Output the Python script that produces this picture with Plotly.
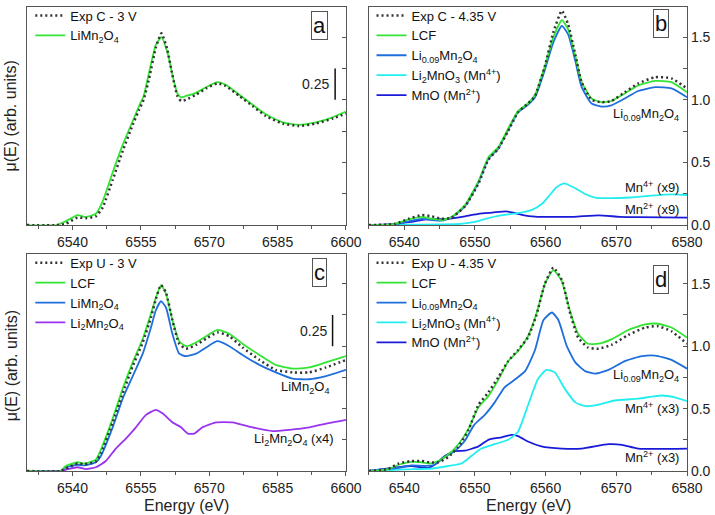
import plotly.graph_objects as go

# ---------- panel a : Exp C - 3 V ----------
e_a = [6530, 6536.5, 6538.5, 6541.1, 6542.9, 6545.1, 6546.6, 6548.8, 6551.0, 6553.2, 6554.6, 6555.6,
       6556.8, 6558.3, 6559.5, 6560.8, 6561.9, 6563.0, 6563.8, 6564.9, 6567.1, 6569.3, 6571.8, 6573.6,
       6576.6, 6579.5, 6582.4, 6586.1, 6589.7, 6593.4, 6597.1, 6600]
lmo_a = [0, 0, 0.03, 0.08, 0.065, 0.09, 0.19, 0.42, 0.64, 0.83, 0.95, 1.03,
         1.22, 1.44, 1.50, 1.38, 1.20, 1.05, 1.02, 1.03, 1.055, 1.10, 1.14, 1.12,
         1.04, 0.96, 0.885, 0.82, 0.80, 0.82, 0.86, 0.905]
exp_a = [0, 0, 0.01, 0.06, 0.055, 0.07, 0.14, 0.36, 0.59, 0.80, 0.92, 1.00,
         1.17, 1.42, 1.53, 1.40, 1.20, 1.03, 0.99, 1.00, 1.04, 1.09, 1.13, 1.11,
         1.03, 0.95, 0.87, 0.81, 0.79, 0.81, 0.85, 0.89]

# ---------- panel b : Exp C - 4.35 V ----------
e_b = [6535, 6538.7, 6540.6, 6542.5, 6543.9, 6545.3, 6546.7, 6548.6, 6550.5, 6551.9, 6553.3, 6554.7,
       6556.1, 6557.5, 6558.5, 6559.9, 6561.1, 6562.3, 6563.2, 6564.2, 6565.1, 6566.5, 6567.9, 6569.3,
       6571.2, 6573.1, 6575.5, 6577.8, 6580]
lcf_b = [0, 0.01, 0.045, 0.065, 0.05, 0.04, 0.065, 0.16, 0.35, 0.54, 0.62, 0.77,
         0.91, 0.97, 1.04, 1.27, 1.50, 1.635, 1.56, 1.35, 1.14, 1.01, 0.98, 0.99,
         1.05, 1.115, 1.15, 1.14, 1.06]
exp_b = [0, 0.01, 0.05, 0.08, 0.07, 0.05, 0.06, 0.15, 0.33, 0.52, 0.61, 0.75,
         0.90, 0.97, 1.03, 1.27, 1.54, 1.71, 1.60, 1.36, 1.14, 1.00, 0.98, 0.99,
         1.06, 1.13, 1.18, 1.17, 1.09]
li009_b = [0, 0.005, 0.03, 0.05, 0.04, 0.035, 0.06, 0.15, 0.34, 0.53, 0.61, 0.76,
           0.90, 0.96, 1.02, 1.24, 1.46, 1.59, 1.52, 1.31, 1.10, 0.97, 0.945, 0.955,
           1.01, 1.07, 1.10, 1.09, 1.02]
e_b_mn4 = [6535, 6540, 6545, 6548, 6550, 6551.5, 6553.5, 6556, 6558, 6559.5, 6560.6, 6561.5,
           6562.6, 6564, 6565.5, 6567, 6569, 6572, 6575, 6578, 6580]
mn4_b = [0, 0.003, 0.006, 0.01, 0.025, 0.05, 0.075, 0.095, 0.12, 0.17, 0.24, 0.30,
         0.333, 0.30, 0.25, 0.22, 0.215, 0.22, 0.235, 0.245, 0.24]
e_b_mn2 = [6535, 6538.7, 6541, 6543, 6546, 6548.6, 6550.5, 6552.5, 6554.4, 6555.4, 6556.8, 6558.5,
           6561, 6564, 6567.5, 6570.5, 6573, 6580]
mn2_b = [0, 0.01, 0.025, 0.045, 0.05, 0.07, 0.09, 0.10, 0.11, 0.10, 0.08, 0.068,
         0.065, 0.066, 0.078, 0.066, 0.063, 0.06]

# ---------- panel c : Exp U - 3 V ----------
e_c = [6530, 6537.4, 6538.5, 6541.1, 6542.6, 6545.1, 6546.2, 6548.8, 6551.0, 6553.2, 6555.4, 6557.2,
       6558.3, 6559.4, 6560.5, 6561.9, 6563.4, 6564.9, 6567.1, 6569.3, 6571.8, 6574.4, 6577.3, 6581.0,
       6584.6, 6588.3, 6591.9, 6595.6, 6600]
lcf_c = [0, 0, 0.04, 0.07, 0.06, 0.09, 0.17, 0.42, 0.66, 0.87, 1.06, 1.26,
         1.39, 1.49, 1.42, 1.21, 1.04, 1.00, 1.03, 1.08, 1.13, 1.10, 1.02, 0.93,
         0.85, 0.82, 0.83, 0.87, 0.92]
exp_c = [0, 0, 0.02, 0.06, 0.055, 0.075, 0.14, 0.39, 0.62, 0.84, 1.03, 1.23,
         1.38, 1.49, 1.43, 1.21, 1.02, 0.98, 1.01, 1.06, 1.11, 1.08, 0.99, 0.89,
         0.81, 0.79, 0.79, 0.83, 0.89]
lmo_c = [0, 0, 0.03, 0.05, 0.045, 0.07, 0.12, 0.35, 0.58, 0.76, 0.94, 1.15,
         1.29, 1.36, 1.31, 1.10, 0.94, 0.92, 0.94, 0.99, 1.04, 1.00, 0.93, 0.85,
         0.79, 0.74, 0.735, 0.76, 0.81]
e_c_li2 = [6530, 6537.2, 6538.5, 6541.1, 6542.9, 6545.1, 6547.3, 6549.5, 6551.7, 6553.9, 6556.1, 6558.3,
           6559.8, 6561.9, 6563.8, 6565.3, 6566.7, 6568.5, 6571.5, 6575.1, 6579.5, 6583.9, 6587.6, 6592.0,
           6596.4, 6600]
li2_c = [0, 0, 0.01, 0.03, 0.015, 0.03, 0.08, 0.18, 0.26, 0.35, 0.45, 0.49,
         0.46, 0.39, 0.35, 0.30, 0.30, 0.35, 0.39, 0.39, 0.35, 0.32, 0.33, 0.35,
         0.385, 0.41]

# ---------- panel d : Exp U - 4.35 V ----------
e_d = [6535, 6537.7, 6539.2, 6541, 6542.5, 6543.6, 6544.8, 6546.2, 6547.6, 6549.1, 6550.5, 6551.9,
       6553.3, 6554.7, 6556.1, 6557.5, 6558.7, 6559.9, 6561.1, 6562.3, 6563.4, 6564.6, 6566.0, 6567.5,
       6569.3, 6571.7, 6574.1, 6575.9, 6577.8, 6580]
lcf_d = [0, 0.013, 0.05, 0.073, 0.07, 0.06, 0.08, 0.13, 0.21, 0.34, 0.51, 0.60,
         0.73, 0.88, 0.96, 1.08, 1.26, 1.50, 1.61, 1.52, 1.29, 1.10, 1.02, 1.02,
         1.055, 1.13, 1.175, 1.18, 1.15, 1.07]
exp_d = [0, 0.015, 0.06, 0.08, 0.08, 0.07, 0.07, 0.11, 0.19, 0.33, 0.53, 0.63,
         0.75, 0.88, 0.97, 1.07, 1.25, 1.50, 1.63, 1.53, 1.28, 1.07, 0.99, 0.98,
         1.01, 1.09, 1.15, 1.16, 1.12, 1.02]
e_d_li = [6535, 6539.2, 6541, 6542.9, 6544.3, 6545.7, 6547.1, 6548.5, 6549.9, 6551.4, 6552.8, 6554.2,
          6555.7, 6557.1, 6558.5, 6559.7, 6560.9, 6561.8, 6563.0, 6564.2, 6565.6, 6567.0, 6568.9, 6571.2,
          6573.6, 6575.5, 6577.8, 6580]
li009_d = [0, 0.026, 0.045, 0.04, 0.05, 0.11, 0.157, 0.236, 0.37, 0.45, 0.55, 0.67,
           0.735, 0.80, 0.97, 1.21, 1.27, 1.21, 1.00, 0.87, 0.80, 0.78, 0.81, 0.88,
           0.92, 0.925, 0.89, 0.82]
e_d_mn4 = [6535, 6540.1, 6543.9, 6546.2, 6548.1, 6549.5, 6550.9, 6552.8, 6554.7, 6556.1, 6557.5, 6558.9,
           6560.1, 6561.3, 6562.7, 6564.2, 6565.6, 6567.0, 6569.8, 6573.1, 6576.4, 6578.3, 6580]
mn4_d = [0, 0.013, 0.02, 0.04, 0.06, 0.12, 0.18, 0.215, 0.25, 0.315, 0.525, 0.735,
         0.81, 0.79, 0.66, 0.55, 0.52, 0.525, 0.565, 0.58, 0.605, 0.59, 0.56]
e_d_mn2 = [6535, 6539.2, 6541.0, 6543.4, 6544.3, 6545.75, 6547.2, 6548.6, 6550.5, 6551.9, 6553.8, 6555.2,
           6556.1, 6557.5, 6559.4, 6562.3, 6565.1, 6568.9, 6570.8, 6573.1, 6580]
mn2_d = [0, 0.03, 0.04, 0.026, 0.05, 0.12, 0.16, 0.163, 0.197, 0.25, 0.27, 0.29,
         0.28, 0.236, 0.197, 0.18, 0.18, 0.215, 0.21, 0.18, 0.18]

C_EXP = "#333333"
C_GREEN = "#33e433"
C_BLUE = "#1e6fdc"
C_CYAN = "#22eef0"
C_NAVY = "#1a1ad8"
C_PURPLE = "#9933f0"
AX = "#555555"
FONT = "Liberation Sans, Arial, sans-serif"

fig = go.Figure()


def line(x, y, name, color, ax, leg, rank, dash=None, width=1.8):
    fig.add_trace(go.Scatter(
        x=x, y=y, mode="lines", name=name,
        line=dict(color=color, width=width, dash=dash, shape="spline", smoothing=0.5),
        xaxis="x" + ax, yaxis="y" + ax, legend=leg, legendrank=rank))


# panel a
line(e_a, lmo_a, "LiMn<sub>2</sub>O<sub>4</sub>", C_GREEN, "", "legend", 2)
line(e_a, exp_a, "Exp C - 3 V", C_EXP, "", "legend", 1, dash="2px,3px", width=2.5)
# panel b
line(e_b_mn2, mn2_b, "MnO (Mn<sup>2+</sup>)", C_NAVY, "2", "legend2", 5)
line(e_b_mn4, mn4_b, "Li<sub>2</sub>MnO<sub>3</sub> (Mn<sup>4+</sup>)", C_CYAN, "2", "legend2", 4)
line(e_b, li009_b, "Li<sub>0.09</sub>Mn<sub>2</sub>O<sub>4</sub>", C_BLUE, "2", "legend2", 3)
line(e_b, lcf_b, "LCF", C_GREEN, "2", "legend2", 2)
line(e_b, exp_b, "Exp C - 4.35 V", C_EXP, "2", "legend2", 1, dash="2px,3px", width=2.5)
# panel c
line(e_c_li2, li2_c, "Li<sub>2</sub>Mn<sub>2</sub>O<sub>4</sub>", C_PURPLE, "3", "legend3", 4)
line(e_c, lmo_c, "LiMn<sub>2</sub>O<sub>4</sub>", C_BLUE, "3", "legend3", 3)
line(e_c, lcf_c, "LCF", C_GREEN, "3", "legend3", 2)
line(e_c, exp_c, "Exp U - 3 V", C_EXP, "3", "legend3", 1, dash="2px,3px", width=2.5)
# panel d
line(e_d_mn2, mn2_d, "MnO (Mn<sup>2+</sup>)", C_NAVY, "4", "legend4", 5)
line(e_d_mn4, mn4_d, "Li<sub>2</sub>MnO<sub>3</sub> (Mn<sup>4+</sup>)", C_CYAN, "4", "legend4", 4)
line(e_d_li, li009_d, "Li<sub>0.09</sub>Mn<sub>2</sub>O<sub>4</sub>", C_BLUE, "4", "legend4", 3)
line(e_d, lcf_d, "LCF", C_GREEN, "4", "legend4", 2)
line(e_d, exp_d, "Exp U - 4.35 V", C_EXP, "4", "legend4", 1, dash="2px,3px", width=2.5)

dom_left = [0, 0.4833]
dom_right = [0.518, 1]
dom_top = [0.53, 1]
dom_bot = [0, 0.468]


def xax(dom, anchor, rng, dtick, tick0):
    return dict(domain=dom, anchor=anchor, range=rng, dtick=dtick, tick0=tick0,
                showline=True, mirror=True, linecolor=AX, linewidth=1.2,
                ticks="outside", ticklen=4, tickcolor=AX, showgrid=False, zeroline=False,
                minor=dict(dtick=dtick / 2, ticks="outside", ticklen=3, tickcolor=AX),
                tickfont=dict(size=14, color="#222"))


def yax(dom, anchor, labels):
    return dict(domain=dom, anchor=anchor, range=[0, 1.74], side="right",
                dtick=0.5, tick0=0, showticklabels=labels,
                showline=True, mirror=True, linecolor=AX, linewidth=1.2,
                ticks="inside", ticklen=4, tickcolor=AX, showgrid=False, zeroline=False,
                minor=dict(dtick=0.25, ticks="inside", ticklen=4, tickcolor=AX),
                tickformat=".1f", tickfont=dict(size=14, color="#222"))


def leg(x, y):
    return dict(x=x, y=y, xref="paper", yref="paper", xanchor="left", yanchor="top",
                bgcolor="rgba(0,0,0,0)", font=dict(size=13, color="#111", family=FONT),
                tracegroupgap=0, itemwidth=30)


fig.update_layout(
    width=715, height=515,
    margin=dict(l=27, r=28, t=1, b=44),
    paper_bgcolor="white", plot_bgcolor="white",
    font=dict(family=FONT, color="#222"),
    xaxis=xax(dom_left, "y", [6530, 6600], 15, 6540),
    yaxis=yax(dom_top, "x", False),
    xaxis2=xax(dom_right, "y2", [6535, 6580], 10, 6540),
    yaxis2=yax(dom_top, "x2", True),
    xaxis3=xax(dom_left, "y3", [6530, 6600], 15, 6540),
    yaxis3=yax(dom_bot, "x3", False),
    xaxis4=xax(dom_right, "y4", [6535, 6580], 10, 6540),
    yaxis4=yax(dom_bot, "x4", True),
    legend=leg(0.005, 1.014),
    legend2=leg(0.522, 1.014),
    legend3=leg(0.005, 0.481),
    legend4=leg(0.522, 0.481),
)

ann = []
# panel letters
for txt, x, y in [("a", 319, 20), ("b", 661, 18), ("c", 319, 270), ("d", 661, 277)]:
    ann.append(dict(text=txt, xref="paper", yref="paper", x=(x - 27) / 660, y=(471 - y) / 470,
                    xanchor="center", yanchor="middle",
                    showarrow=False, font=dict(size=22, color="#111"),
                    bordercolor=AX, borderwidth=1, borderpad=1, bgcolor="white"))
# axis titles
for y in [(471 - 112) / 470, (471 - 365) / 470]:
    ann.append(dict(text="μ(E) (arb. units)", xref="paper", yref="paper", x=(11 - 27) / 660, y=y,
                    xanchor="center", yanchor="middle",
                    textangle=-90, showarrow=False, font=dict(size=16, color="#222")))
for x in [186.5, 528]:
    ann.append(dict(text="Energy (eV)", xref="paper", yref="paper", x=(x - 27) / 660, y=(471 - 506) / 470,
                    xanchor="center", yanchor="middle",
                    showarrow=False, font=dict(size=16, color="#222")))
# curve labels
lab = [("Li<sub>0.09</sub>Mn<sub>2</sub>O<sub>4</sub>", 681, 110),
       ("Mn<sup>4+</sup> (x9)", 681, 183),
       ("Mn<sup>2+</sup> (x9)", 681, 206),
       ("Li<sub>0.09</sub>Mn<sub>2</sub>O<sub>4</sub>", 681, 374),
       ("Mn<sup>4+</sup> (x3)", 681, 407),
       ("Mn<sup>2+</sup> (x3)", 681, 457),
       ("LiMn<sub>2</sub>O<sub>4</sub>", 331, 386),
       ("Li<sub>2</sub>Mn<sub>2</sub>O<sub>4</sub> (x4)", 336, 439)]
for txt, x, y in lab:
    ann.append(dict(text=txt, xref="paper", yref="paper", x=(x - 27) / 660, y=(471 - y) / 470,
                    xanchor="right", yanchor="middle", showarrow=False, font=dict(size=13, color="#111")))
# 0.25 scale bars
for ax, xd in [("", 0.966), ("3", 0.958)]:
    fig.add_shape(type="line", xref="x" + ax + " domain", yref="y" + ax, x0=xd, x1=xd, y0=1.0, y1=1.25,
                  line=dict(color="#111", width=1.5))
    ann.append(dict(text="0.25", xref="x" + ax + " domain", yref="y" + ax, x=xd - 0.012, y=1.125,
                    xanchor="right", yanchor="middle", showarrow=False, font=dict(size=14, color="#222")))
fig.update_layout(annotations=ann)

fig.write_html("out.html", config={"displayModeBar": False},
               post_script="document.body.style.margin='0';")
